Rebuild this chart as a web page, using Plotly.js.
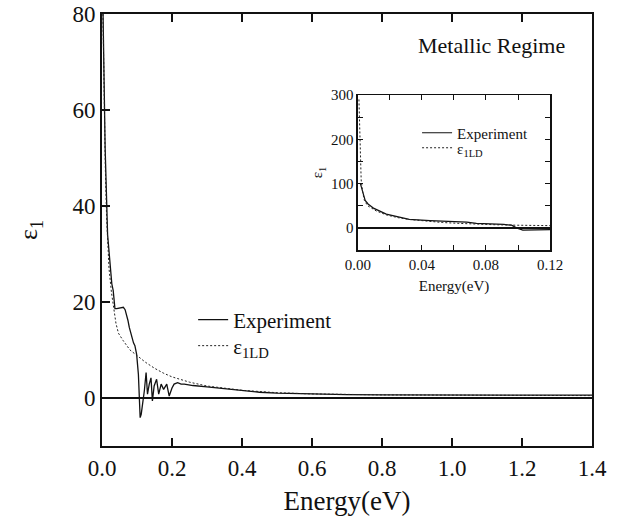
<!DOCTYPE html>
<html>
<head>
<meta charset="utf-8">
<script src="https://cdn.plot.ly/plotly-3.0.1.min.js"></script>
<style>
  html, body { margin: 0; padding: 0; background: #fff; }
  #chart { width: 618px; height: 517px; }
</style>
</head>
<body>
<div id="chart"></div>
<script>
// Real part of the dielectric function, metallic regime
// Main panel: 0 - 1.4 eV
const expEnergy = [0.003, 0.0066, 0.009, 0.016, 0.023, 0.028, 0.032, 0.037, 0.042, 0.050, 0.061, 0.066,
  0.070, 0.074, 0.078, 0.085, 0.090, 0.094, 0.099, 0.104, 0.107, 0.109, 0.112, 0.116, 0.121, 0.126,
  0.130, 0.135, 0.140, 0.144, 0.149, 0.156, 0.162, 0.169, 0.176, 0.185, 0.192, 0.200, 0.206, 0.216,
  0.226, 0.235, 0.260, 0.300, 0.350, 0.400, 0.450, 0.500, 0.600, 0.700, 0.800, 0.900, 1.000, 1.100,
  1.200, 1.300, 1.400];
const expEps1 = [80, 62, 52, 34, 27, 23.8, 22.4, 18.6, 18.6, 18.7, 18.9, 18.4,
  17.5, 16.2, 14.7, 12.6, 11.5, 10.9, 9.1, 4.9, -1.5, -4.1, -3.4, -1.3, 1.5, 5.3,
  0.8, 2.9, 4.2, -0.6, 2.5, 3.9, 0.8, 2.9, 1.8, 2.9, 0.4, 2.1, 2.9, 3.2,
  2.9, 2.9, 2.6, 2.3, 1.9, 1.5, 1.2, 1.0, 0.8, 0.7, 0.65, 0.6, 0.6, 0.6,
  0.6, 0.6, 0.6];

const ldEnergy = [0.0027, 0.004, 0.006, 0.008, 0.0095, 0.013, 0.017, 0.020, 0.027, 0.033, 0.040,
  0.047, 0.060, 0.080, 0.100, 0.125, 0.150, 0.175, 0.200, 0.250, 0.300, 0.350, 0.400, 0.500,
  0.600, 0.800, 1.000, 1.200, 1.400];
const ldEps1 = [80, 72, 62, 54, 48, 38, 31, 27, 22, 18.5, 15.5,
  13.5, 12, 10, 8.8, 7.4, 6.2, 5.2, 4.4, 3.3, 2.5, 2.0, 1.6, 1.1,
  0.85, 0.65, 0.55, 0.5, 0.5];

// Inset: 0 - 0.12 eV
const insetExpEnergy = [0.0015, 0.003, 0.0045, 0.0063, 0.010, 0.0177, 0.025, 0.032, 0.045, 0.059,
  0.068, 0.074, 0.085, 0.091, 0.096, 0.099, 0.103, 0.108, 0.114, 0.120];
const insetExpEps1 = [100, 80, 62, 54, 44, 31, 24, 19, 16.5, 15,
  13, 10, 9, 7.7, 6, 0, -5, -5, -4.5, -4];

const insetLdEnergy = [0.0006, 0.001, 0.0015, 0.002, 0.003, 0.004, 0.006, 0.0085, 0.0115, 0.018,
  0.025, 0.032, 0.042, 0.053, 0.064, 0.074, 0.086, 0.099, 0.110, 0.120];
const insetLdEps1 = [290, 223, 160, 108, 80, 62, 50, 44, 38, 29,
  23, 19, 15, 12, 10, 8, 7, 6, 5.5, 5];

const serif = 'Liberation Serif, Times New Roman, serif';
const ink = '#111';

const traces = [
  { x: expEnergy, y: expEps1, name: 'Experiment', type: 'scatter', mode: 'lines',
    line: { color: ink, width: 1.3 }, xaxis: 'x', yaxis: 'y', legend: 'legend' },
  { x: ldEnergy, y: ldEps1, name: '\u03b5<sub>1LD</sub>', type: 'scatter', mode: 'lines',
    line: { color: '#222', width: 1, dash: '2px,2px' }, xaxis: 'x', yaxis: 'y', legend: 'legend2' },
  { x: insetExpEnergy, y: insetExpEps1, name: 'Experiment', type: 'scatter', mode: 'lines',
    line: { color: ink, width: 1.2 }, xaxis: 'x2', yaxis: 'y2', legend: 'legend3' },
  { x: insetLdEnergy, y: insetLdEps1, name: '\u03b5<sub>1LD</sub>', type: 'scatter', mode: 'lines',
    line: { color: '#222', width: 1, dash: '2px,2px' }, xaxis: 'x2', yaxis: 'y2', legend: 'legend4' }
];

// one single-entry legend per key, so each row sits where it should
function legendBox(x, y, size) {
  return { x: x, y: y, xanchor: 'left', yanchor: 'middle',
    bgcolor: 'rgba(0,0,0,0)', borderwidth: 0,
    font: { family: serif, size: size, color: ink } };
}

const layout = {
  width: 618, height: 517,
  margin: { l: 102, r: 26, t: 14, b: 71 },
  paper_bgcolor: '#fff', plot_bgcolor: '#fff',
  font: { family: serif, color: ink },
  showlegend: true,
  xaxis: {
    domain: [0, 1], range: [0, 1.4], tick0: 0, dtick: 0.2, tickformat: '.1f',
    ticks: 'inside', ticklen: 8, tickwidth: 1.5, tickcolor: ink,
    showline: true, linewidth: 2, linecolor: ink, mirror: 'ticks',
    showgrid: false, zeroline: false,
    tickfont: { family: serif, size: 23, color: ink },
    title: { text: 'Energy(eV)', font: { family: serif, size: 27, color: ink }, standoff: 12 }
  },
  yaxis: {
    domain: [0, 1], range: [-10, 80], tick0: 0, dtick: 20,
    ticks: 'inside', ticklen: 8, tickwidth: 1.5, tickcolor: ink,
    showline: true, linewidth: 2, linecolor: ink, mirror: true,
    showgrid: false, zeroline: true, zerolinecolor: ink, zerolinewidth: 1.5,
    tickfont: { family: serif, size: 23, color: ink },
    title: { text: '\u03b5<sub>1</sub>', font: { family: serif, size: 26, color: ink }, standoff: 27 }
  },
  xaxis2: {
    domain: [0.5224, 0.9143], anchor: 'y2', range: [0, 0.12], tick0: 0, dtick: 0.04, tickformat: '.2f',
    ticks: 'inside', ticklen: 5, tickwidth: 1, tickcolor: ink,
    minor: { dtick: 0.02, ticks: 'inside', ticklen: 5, tickcolor: ink },
    showline: true, linewidth: 1.5, linecolor: ink, mirror: 'allticks',
    showgrid: false, zeroline: false,
    tickfont: { family: serif, size: 15, color: ink },
    title: { text: 'Energy(eV)', font: { family: serif, size: 15, color: ink }, standoff: 9 }
  },
  yaxis2: {
    domain: [0.4537, 0.8125], anchor: 'x2', range: [-50, 300], tick0: 0, dtick: 100,
    ticks: 'inside', ticklen: 5, tickwidth: 1, tickcolor: ink,
    minor: { dtick: 50, ticks: 'inside', ticklen: 5, tickcolor: ink },
    showline: true, linewidth: 1.5, linecolor: ink, mirror: 'allticks',
    showgrid: false, zeroline: true, zerolinecolor: ink, zerolinewidth: 1.3,
    tickfont: { family: serif, size: 15, color: ink },
    title: { text: '\u03b5<sub>1</sub>', font: { family: serif, size: 15, color: ink }, standoff: 4 }
  },
  legend: legendBox(0.186, 0.2917, 21),
  legend2: legendBox(0.186, 0.2315, 21),
  legend3: legendBox(0.643, 0.7245, 15),
  legend4: legendBox(0.643, 0.6898, 15),
  annotations: [
    { text: 'Metallic Regime', xref: 'paper', yref: 'paper', x: 0.794, y: 0.926,
      xanchor: 'center', yanchor: 'middle', showarrow: false,
      font: { family: serif, size: 22, color: ink } }
  ]
};

Plotly.newPlot('chart', traces, layout, { displayModeBar: false, staticPlot: true });
</script>
</body>
</html>
